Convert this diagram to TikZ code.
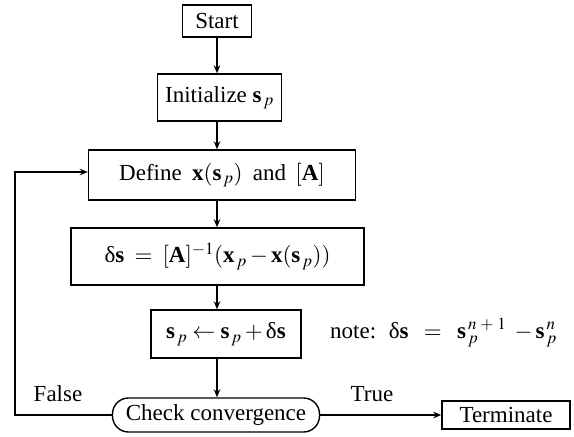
\documentclass[tikz,border=0pt]{standalone}
\usepackage{mathptmx}
\usepackage{fontspec}
\setmainfont{Liberation Serif}
\usetikzlibrary{arrows.meta}
\newcommand{\Bv}[1]{\mbox{\bfseries #1}}
\newcommand{\dlt}{\mbox{δ}}
\begin{document}
\begin{tikzpicture}[x=1pt,y=-1pt,
  every node/.style={font=\fontsize{23}{27}\selectfont},
  box/.style={draw, line width=1.4pt, inner sep=0pt, align=center},
  arr/.style={line width=1.4pt, -{Stealth[length=8pt,width=6.5pt]}},
  lbl/.style={inner sep=0pt, anchor=base}]
\useasboundingbox (0,0) rectangle (574,437);
\node[box, minimum width=69pt, minimum height=32pt] (start) at (217,21) {Start};
\node[box, minimum width=124pt, minimum height=47pt] (init) at (219.5,97.5) {Initialize $\Bv{s}_{\,p}$};
\node[box, minimum width=267pt, minimum height=50pt] (define) at (222,175) {Define\hspace{0.45em}$\Bv{x}(\Bv{s}_{\,p})$\hspace{0.45em}and\hspace{0.4em}$[\Bv{A}]$};
\node[box, minimum width=293pt, minimum height=57pt] (solve) at (217.5,256.5) {$\dlt\Bv{s}\;=\;[\Bv{A}]^{-1}(\Bv{x}_{\,p}-\Bv{x}(\Bv{s}_{\,p}))$};
\node[box, minimum width=150pt, minimum height=48pt] (update) at (226,334) {$\Bv{s}_{\,p}\leftarrow\Bv{s}_{\,p}+\dlt\Bv{s}$};
\node[box, rounded corners=16pt, minimum width=207pt, minimum height=34pt] (check) at (216,415) {Check convergence};
\node[box, minimum width=128pt, minimum height=28pt] (term) at (506,415) {Terminate};
\node[inner sep=0pt, anchor=base west] (note) at (330,338) {note:\hspace{0.55em}$\dlt\Bv{s}\;\;=\;\;\Bv{s}_{\,p}^{\,n\;+\;1}\;-\Bv{s}_{\,p}^{\,n}$};
\coordinate (fb) at (15,415);
\draw[arr] (start.south) -- (start.south |- init.north);
\draw[arr] (start.south |- init.south) -- (start.south |- define.north);
\draw[arr] (start.south |- define.south) -- (start.south |- solve.north);
\draw[arr] (start.south |- solve.south) -- (start.south |- update.north);
\draw[arr] (start.south |- update.south) -- (start.south |- check.north);
\draw[arr] (check.east) -- (term.west);
\draw[arr] (check.west) -- (fb) |- ([yshift=3pt]define.west);
\node[lbl] (false) at (58,401) {False};
\node[lbl] (true) at (372,401) {True};
\end{tikzpicture}
\end{document}
